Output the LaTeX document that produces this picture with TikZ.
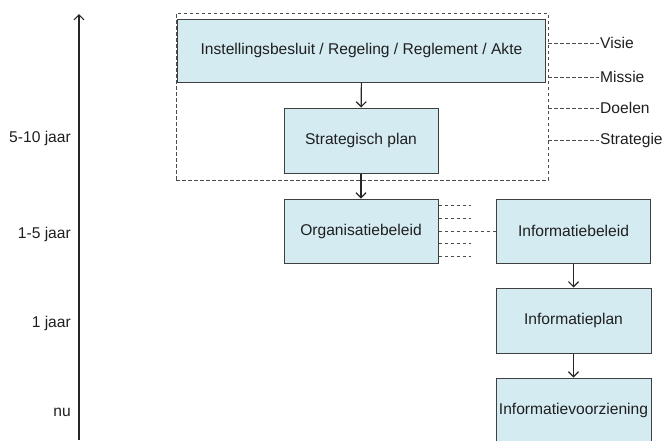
\documentclass[tikz,border=0pt]{standalone}
\usepackage{fontspec}
\setmainfont{Liberation Sans}
\usetikzlibrary{arrows.meta}
\definecolor{boxblue}{HTML}{D4EBF2}
\definecolor{randgrijs}{HTML}{3F3F3F}
\begin{document}
\begin{tikzpicture}[x=1pt,y=-1pt]
\tikzstyle{every node}=[font=\fontsize{15.6}{18}\selectfont, text=black!88]
\tikzstyle{blok}=[draw=randgrijs, fill=boxblue, rectangle, line width=1pt, inner sep=0pt]
\tikzstyle{pijl}=[-{Straight Barb[length=5pt,width=10pt,line width=1.2pt]}, line width=1.1pt, black!85]
\tikzstyle{stippel}=[dash pattern=on 3.5pt off 2.5pt, line width=0.8pt, black!70]
\useasboundingbox (0,0) rectangle (666,440);

% tijdas
\coordinate (asonder) at (79,440);
\coordinate (asboven) at (79,14);
\draw[pijl] (asonder) -- (asboven);
\node[anchor=east, inner sep=1pt] (t1) at (72,138) {5-10 jaar};
\node[anchor=east, inner sep=1pt] (t2) at (72,234) {1-5 jaar};
\node[anchor=east, inner sep=1pt] (t3) at (72,323) {1 jaar};
\node[anchor=east, inner sep=1pt] (t4) at (72,412) {nu};

% kader om besluit en plan
\node[draw=black!60, stippel, minimum width=372pt, minimum height=167pt, inner sep=0pt] (kader) at (362,96.5) {};

\node[blok, minimum width=368pt, minimum height=63pt] (besluit) at (361.5,50.5) {Instellingsbesluit / Regeling / Reglement / Akte};
\node[blok, minimum width=154pt, minimum height=65pt] (strat) at (361,140.5) {Strategisch plan};
\node[blok, minimum width=154pt, minimum height=64pt] (org) at (361,231) {Organisatiebeleid};
\node[blok, minimum width=154pt, minimum height=64pt] (ibeleid) at (573.5,231) {Informatiebeleid};
\node[blok, minimum width=155pt, minimum height=65pt] (iplan) at (573.5,320.5) {Informatieplan};
\node[blok, minimum width=155pt, minimum height=65pt] (ivoorz) at (573.5,410.5) {Informatievoorziening};

\draw[pijl] (besluit) -- (strat);
\draw[pijl] (strat) -- (org);
\draw[pijl] (ibeleid) -- (iplan);
\draw[pijl] (iplan) -- (ivoorz);

% termen rechts
\node[anchor=west, inner sep=1pt] (visie) at (599,43) {Visie};
\node[anchor=west, inner sep=1pt] (missie) at (599,77) {Missie};
\node[anchor=west, inner sep=1pt] (doelen) at (599,108) {Doelen};
\node[anchor=west, inner sep=1pt] (strategie) at (599,140) {Strategie};
\foreach \n in {visie,missie,doelen,strategie}
  \draw[stippel] (kader.east |- \n.west) -- (\n.west);

% beleid naar beleid
\draw[stippel] (org) -- (ibeleid);
\foreach \dy in {26,13,-12,-25}
  \draw[stippel] ([yshift=\dy pt]org.east) -- ++(32,0);
\end{tikzpicture}
\end{document}
